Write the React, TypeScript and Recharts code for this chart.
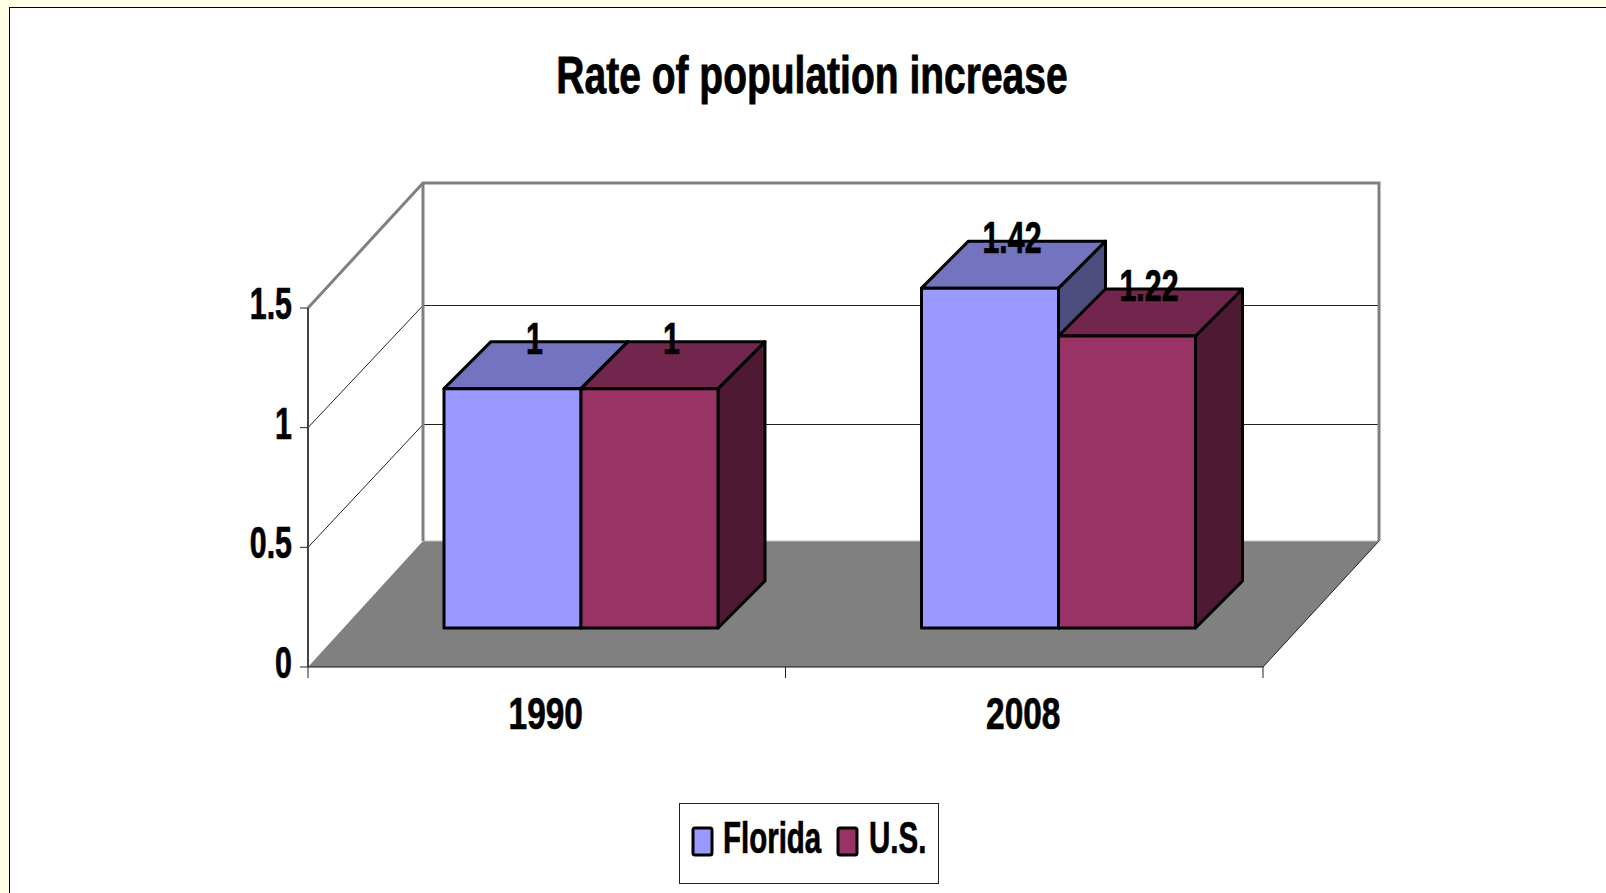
import { BarChart, Bar, XAxis, YAxis, CartesianGrid, Legend, LabelList } from "recharts";

const categories = ["1990", "2008"];
const floridaValues = [1, 1.42];
const usValues = [1, 1.22];
const yTicks = [0, 0.5, 1, 1.5];

const chartData = categories.map((year, i) => ({ year, florida: floridaValues[i], us: usValues[i] }));

const FONT = "'Liberation Sans', Arial, sans-serif";
const W = 1606;
const H = 893;
// front plane of the fake 3D box
const PLOT = { left: 308, right: 1263, top: 308, bottom: 667 };
const WALL_DX = 115;
// bars stand in the middle of the floor
const BAR_SHIFT = { x: 34, y: -39 };
const BAR_DEPTH = { x: 47, y: -47 };

const FLORIDA = { front: "#9999ff", top: "#7373bf", side: "#4d4d80" };
const US = { front: "#993366", top: "#73264d", side: "#4d1933" };

function NarrowText({ x, y, size, sx, anchor = "middle", children }: any) {
  return (
    <text
      transform={`translate(${x} ${y}) scale(${sx} 1)`}
      textAnchor={anchor}
      fontFamily={FONT}
      fontWeight={700}
      fontSize={size}
      fill="#000"
      stroke="#000"
      strokeWidth={0.7}
    >
      {children}
    </text>
  );
}

function wallLine(props: any) {
  const { x1, x2, y1, key } = props;
  const isFloor = Math.abs(y1 - PLOT.bottom) < 1;
  const isTop = Math.abs(y1 - PLOT.top) < 1;
  if (isFloor) {
    const by = y1 - 126;
    return (
      <g key={key ?? "floor"}>
        <polygon points={`${x1},${y1} ${x2},${y1} ${x2 + WALL_DX + 1},${by} ${x1 + WALL_DX},${by}`} fill="#808080" />
        <line x1={x1 + WALL_DX} x2={x2 + WALL_DX} y1={by} y2={by} stroke="#c0c0c0" strokeWidth={1} />
        <line x1={x2} y1={y1} x2={x2 + WALL_DX + 1} y2={by} stroke="#222" strokeWidth={1} />
      </g>
    );
  }
  if (isTop) {
    const by = y1 - 125;
    return (
      <g key={key ?? "top"}>
        <polyline
          points={`${x1},${y1} ${x1 + WALL_DX},${by} ${x2 + WALL_DX + 1},${by} ${x2 + WALL_DX + 1},${PLOT.bottom - 126}`}
          fill="none"
          stroke="#808080"
          strokeWidth={3}
        />
        <line x1={x1 + WALL_DX} x2={x1 + WALL_DX} y1={by} y2={PLOT.bottom - 126} stroke="#808080" strokeWidth={3} />
      </g>
    );
  }
  const by = Math.round(y1 - 123) + 0.5;
  return (
    <polyline
      key={key ?? y1}
      points={`${x1},${y1} ${x1 + WALL_DX},${by} ${x2 + WALL_DX},${by}`}
      fill="none"
      stroke="#222"
      strokeWidth={1}
    />
  );
}

function makeBox(c: { front: string; top: string; side: string }) {
  return function Box(props: any) {
    const { x, y, width, height } = props;
    const l = x + BAR_SHIFT.x;
    const t = y + BAR_SHIFT.y;
    const r = l + width;
    const b = t + height;
    const dx = BAR_DEPTH.x;
    const dy = BAR_DEPTH.y;
    return (
      <g stroke="#000" strokeWidth={3} strokeLinejoin="round">
        <polygon points={`${r},${t} ${r + dx},${t + dy} ${r + dx},${b + dy} ${r},${b}`} fill={c.side} />
        <polygon points={`${l},${t} ${l + dx},${t + dy} ${r + dx},${t + dy} ${r},${t}`} fill={c.top} />
        <rect x={l} y={t} width={width} height={height} fill={c.front} />
      </g>
    );
  };
}

function barLabel(props: any) {
  const { x, y, width, value } = props;
  return (
    <NarrowText x={x + width / 2 + BAR_SHIFT.x + 22} y={y + BAR_SHIFT.y + BAR_DEPTH.y + 12} size={44} sx={0.69}>
      {value}
    </NarrowText>
  );
}

function YTick(props: any) {
  const { y, payload } = props;
  return (
    <NarrowText x={292} y={y + 11} size={44} sx={0.69} anchor="end">
      {payload.value}
    </NarrowText>
  );
}

function XTick(props: any) {
  const { x, payload } = props;
  const band = (PLOT.right - PLOT.left) / categories.length;
  return (
    <g>
      <line x1={x - band / 2} x2={x - band / 2} y1={PLOT.bottom} y2={PLOT.bottom + 11} stroke="#222" />
      <line x1={x + band / 2} x2={x + band / 2} y1={PLOT.bottom} y2={PLOT.bottom + 11} stroke="#222" />
      <NarrowText x={x - 1} y={729} size={44} sx={0.76}>
        {payload.value}
      </NarrowText>
    </g>
  );
}

function LegendBox({ payload }: any) {
  const items = payload ?? [];
  const swatchX = [14, 159];
  const textX = [44, 190];
  return (
    <svg width={260} height={81} style={{ display: "block" }}>
      <rect x={0.5} y={0.5} width={259} height={80} fill="#fff" stroke="#222" />
      {items.map((it: any, i: number) => (
        <g key={it.value}>
          <rect x={swatchX[i]} y={25} width={19} height={27} rx={2} fill={it.color} stroke="#000" strokeWidth={3} />
          <NarrowText x={textX[i]} y={50} size={44} sx={0.67} anchor="start">
            {it.value}
          </NarrowText>
        </g>
      ))}
    </svg>
  );
}

export default function App() {
  return (
    <div style={{ position: "absolute", left: 0, top: 0, width: W, height: H, background: "#ffffe5", overflow: "hidden" }}>
      <div style={{ position: "absolute", left: 9, top: 7, width: W, height: H, background: "#fff", border: "1px solid #000" }} />
      <div style={{ position: "absolute", left: 0, top: 0 }}>
        <BarChart
          width={W}
          height={H}
          data={chartData}
          barGap={0}
          barCategoryGap={102}
          margin={{ top: PLOT.top, right: W - PLOT.right, left: PLOT.left - 60, bottom: H - PLOT.bottom - 60 }}
        >
          <text
            transform="translate(812 93) scale(0.75 1)"
            textAnchor="middle"
            fontFamily={FONT}
            fontWeight={700}
            fontSize={52}
            fill="#000"
            stroke="#000"
            strokeWidth={0.8}
          >
            Rate of population increase
          </text>
          <CartesianGrid vertical={false} horizontal={wallLine} />
          <XAxis
            dataKey="year"
            height={60}
            tickLine={false}
            axisLine={{ stroke: "#111", strokeWidth: 1 }}
            tick={XTick}
            interval={0}
          />
          <YAxis
            width={60}
            domain={[0, 1.5]}
            ticks={yTicks}
            tickSize={8}
            tickLine={{ stroke: "#222" }}
            axisLine={{ stroke: "#444", strokeWidth: 2 }}
            tick={YTick}
          />
          <Legend
            layout="horizontal"
            verticalAlign="middle"
            align="center"
            wrapperStyle={{ left: 679, top: 803, width: 260, height: 81 }}
            content={LegendBox}
          />
          <Bar dataKey="florida" name="Florida" fill={FLORIDA.front} shape={makeBox(FLORIDA)} isAnimationActive={false}>
            <LabelList dataKey="florida" content={barLabel} />
          </Bar>
          <Bar dataKey="us" name="U.S." fill={US.front} shape={makeBox(US)} isAnimationActive={false}>
            <LabelList dataKey="us" content={barLabel} />
          </Bar>
        </BarChart>
      </div>
    </div>
  );
}
